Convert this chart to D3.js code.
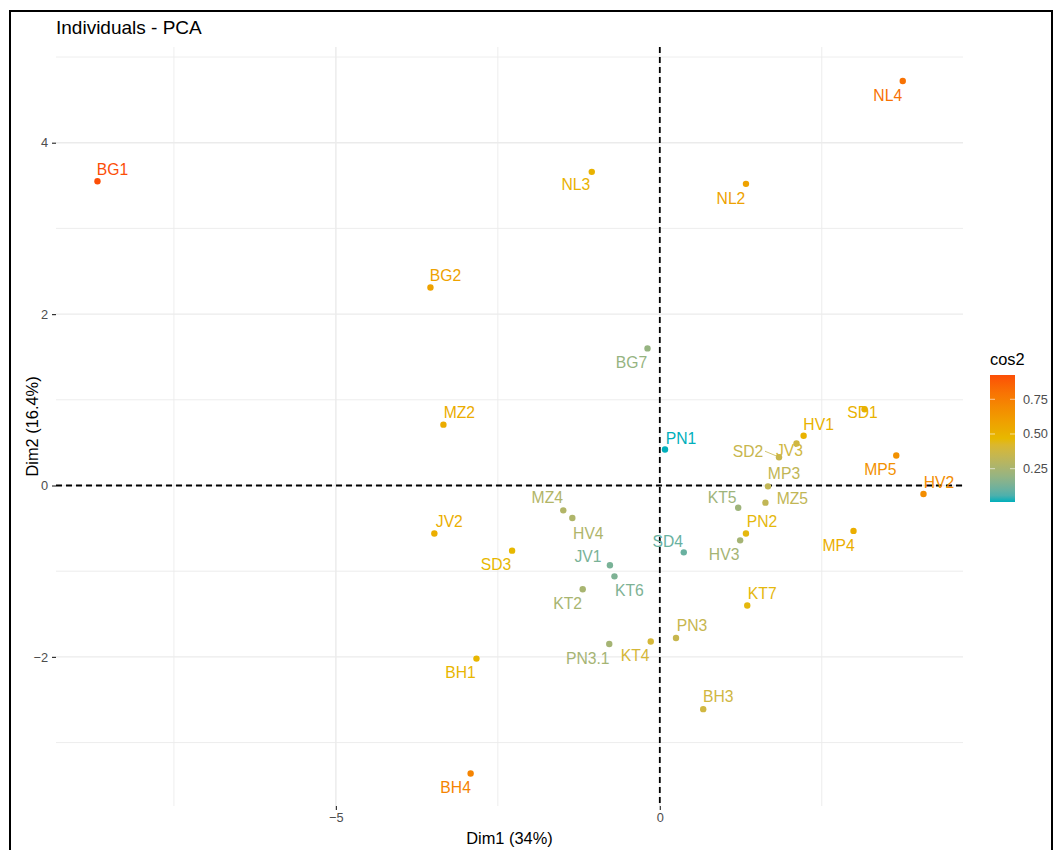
<!DOCTYPE html>
<html><head><meta charset="utf-8">
<script src="https://cdn.jsdelivr.net/npm/d3@7"></script>
<style>body{margin:0;background:#fff;} svg{display:block;font-family:"Liberation Sans",Arial,sans-serif;}</style>
</head><body><svg id="c" width="1054" height="850"></svg>
<script>
const names = ["BG1","NL4","NL3","NL2","BG2","BG7","MZ2","PN1","SD1","HV1","JV3","SD2","MP5","MP3","HV2","MZ5","KT5","PN2","HV3","MP4","SD4","KT7","MZ4","HV4","JV2","SD3","JV1","KT6","KT2","PN3","KT4","PN3.1","BH1","BH3","BH4"];
const dim1 = [-8.68,3.75,-1.05,1.33,-3.54,-0.19,-3.34,0.08,3.16,2.22,2.11,1.84,3.65,1.67,4.07,1.63,1.21,1.33,1.24,2.99,0.37,1.35,-1.49,-1.35,-3.48,-2.28,-0.77,-0.70,-1.19,0.25,-0.14,-0.78,-2.83,0.67,-2.92];
const dim2 = [3.55,4.72,3.66,3.52,2.31,1.60,0.71,0.42,0.89,0.58,0.49,0.33,0.35,-0.01,-0.10,-0.20,-0.26,-0.56,-0.64,-0.53,-0.78,-1.40,-0.29,-0.38,-0.56,-0.76,-0.93,-1.06,-1.21,-1.78,-1.82,-1.85,-2.02,-2.61,-3.36];
const cos2 = [0.925,0.80,0.50,0.58,0.58,0.20,0.53,0.01,0.50,0.50,0.38,0.35,0.66,0.33,0.68,0.33,0.22,0.46,0.24,0.52,0.10,0.46,0.28,0.27,0.52,0.47,0.13,0.14,0.25,0.35,0.40,0.24,0.48,0.38,0.72];
// label offsets (px, label centre relative to point), as placed by the repel layout
const labelDx = [15,-15,-16,-15,15,-16,16,16,-2,15,-7,-31,-16,16,15.5,27,-16,16,-16,-15,-16,15,-16,16,15,-16,-22,15,-15,16,-15.5,-21.5,-16,15,-15];
const labelDy = [-12,14,13,15,-12,14,-12,-11,3,-11,7,-6,14,-13,-11.5,-4,-10.5,-12,14,14,-10.5,-12,-13,15,-12,14,-9,14,14,-13,14,14,13.5,-12.5,14];
const xTicks = [-5,0];
const yTicks = [-2,0,2,4];
const xMinor = [-7.5,-2.5,2.5];
const yMinor = [-3,-1,1,3,5];
const legendTicks = [0.25,0.50,0.75];
const gradientCols = ["#00AFBB","#E7B800","#FC4E07"];

const svg = d3.select("#c");
const P = {l:56, r:963, t:47, b:806};
const x = d3.scaleLinear().domain([-9.32,4.68]).range([P.l,P.r]);
const y = d3.scaleLinear().domain([-3.74,5.117]).range([P.b,P.t]);
const cmin = d3.min(cos2), cmax = d3.max(cos2);
const col = d3.scaleLinear().domain([cmin,(cmin+cmax)/2,cmax]).range(gradientCols).interpolate(d3.interpolateLab);

// frame
svg.append("rect").attr("x",10).attr("y",11).attr("width",1042).attr("height",900)
  .attr("fill","none").attr("stroke","#000").attr("stroke-width",2);

// title
svg.append("text").attr("x",56).attr("y",34).attr("font-size",19).attr("fill","#000").text("Individuals - PCA");

const g = svg.append("g");
// minor grid
g.selectAll(".mx").data(xMinor).join("line").attr("x1",d=>x(d)).attr("x2",d=>x(d)).attr("y1",P.t).attr("y2",P.b).attr("stroke","#EBEBEB").attr("stroke-width",0.9);
g.selectAll(".my").data(yMinor).join("line").attr("y1",d=>y(d)).attr("y2",d=>y(d)).attr("x1",P.l).attr("x2",P.r).attr("stroke","#EBEBEB").attr("stroke-width",0.9);
// major grid
g.selectAll(".Mx").data(xTicks).join("line").attr("x1",d=>x(d)).attr("x2",d=>x(d)).attr("y1",P.t).attr("y2",P.b).attr("stroke","#EBEBEB").attr("stroke-width",1.4);
g.selectAll(".My").data(yTicks).join("line").attr("y1",d=>y(d)).attr("y2",d=>y(d)).attr("x1",P.l).attr("x2",P.r).attr("stroke","#EBEBEB").attr("stroke-width",1.4);

// axes
const xAxis = svg.append("g").attr("transform",`translate(0,${P.b})`)
  .call(d3.axisBottom(x).tickValues(xTicks).tickSize(4).tickPadding(3).tickFormat(d3.format("d")));
const yAxis = svg.append("g").attr("transform",`translate(${P.l},0)`)
  .call(d3.axisLeft(y).tickValues(yTicks).tickSize(4).tickPadding(4).tickFormat(d3.format("d")));
[xAxis,yAxis].forEach(a=>{
  a.select(".domain").remove();
  a.selectAll(".tick line").attr("stroke","#333").attr("stroke-width",1.2);
  a.selectAll(".tick text").attr("fill","#4D4D4D").attr("font-size",12.8).attr("font-family","Liberation Sans, Arial, sans-serif");
});

// reference dashed lines
g.append("line").attr("x1",P.l).attr("x2",P.r).attr("y1",y(0)).attr("y2",y(0)).attr("stroke","#000").attr("stroke-width",1.8).attr("stroke-dasharray","6,4");
g.append("line").attr("y1",P.t).attr("y2",P.b).attr("x1",x(0)).attr("x2",x(0)).attr("stroke","#000").attr("stroke-width",1.8).attr("stroke-dasharray","6,4");

const data = names.map((n,i)=>({n, x:dim1[i], y:dim2[i], c:cos2[i], dx:labelDx[i], dy:labelDy[i]}));

// repel segment for labels placed far from their point
data.filter(d=>Math.hypot(d.dx,d.dy)>30).forEach(d=>{
  g.append("line").attr("x1",x(d.x)+d.dx+17).attr("y1",y(d.y)+d.dy).attr("x2",x(d.x)-2).attr("y2",y(d.y)-1)
   .attr("stroke",col(d.c)).attr("stroke-width",0.8);
});

g.selectAll(".pt").data(data).join("circle").attr("cx",d=>x(d.x)).attr("cy",d=>y(d.y)).attr("r",3.2).attr("fill",d=>col(d.c));
g.selectAll(".lb").data(data).join("text").attr("x",d=>x(d.x)+d.dx).attr("y",d=>y(d.y)+d.dy+5.6)
  .attr("text-anchor","middle").attr("font-size",15.7).attr("fill",d=>col(d.c)).text(d=>d.n);

// axis titles
svg.append("text").attr("x",(P.l+P.r)/2).attr("y",844).attr("text-anchor","middle").attr("font-size",16.4).attr("fill","#000").text("Dim1 (34%)");
svg.append("text").attr("transform",`translate(38,${(P.t+P.b)/2}) rotate(-90)`).attr("text-anchor","middle").attr("font-size",16.4).attr("fill","#000").text("Dim2 (16.4%)");

// legend
const L = {x:990, w:25, top:375, bot:502};
const ly = d3.scaleLinear().domain([cmin,cmax]).range([L.bot,L.top]);
const defs = svg.append("defs");
const grad = defs.append("linearGradient").attr("id","gr").attr("x1",0).attr("y1",1).attr("x2",0).attr("y2",0);
d3.range(0,1.0001,0.05).forEach(t=>grad.append("stop").attr("offset",t).attr("stop-color",col(cmin+t*(cmax-cmin))));
svg.append("text").attr("x",L.x).attr("y",365).attr("font-size",16.4).attr("fill","#000").text("cos2");
svg.append("rect").attr("x",L.x).attr("y",L.top).attr("width",L.w).attr("height",L.bot-L.top).attr("fill","url(#gr)");
legendTicks.forEach(t=>{
  svg.append("line").attr("x1",L.x).attr("x2",L.x+5).attr("y1",ly(t)).attr("y2",ly(t)).attr("stroke","#fff").attr("stroke-opacity",0.6);
  svg.append("line").attr("x1",L.x+L.w-5).attr("x2",L.x+L.w).attr("y1",ly(t)).attr("y2",ly(t)).attr("stroke","#fff").attr("stroke-opacity",0.6);
  svg.append("text").attr("x",L.x+L.w+8).attr("y",ly(t)+4.5).attr("font-size",12.8).attr("fill","#4D4D4D").text(d3.format(".2f")(t));
});
</script></body></html>
